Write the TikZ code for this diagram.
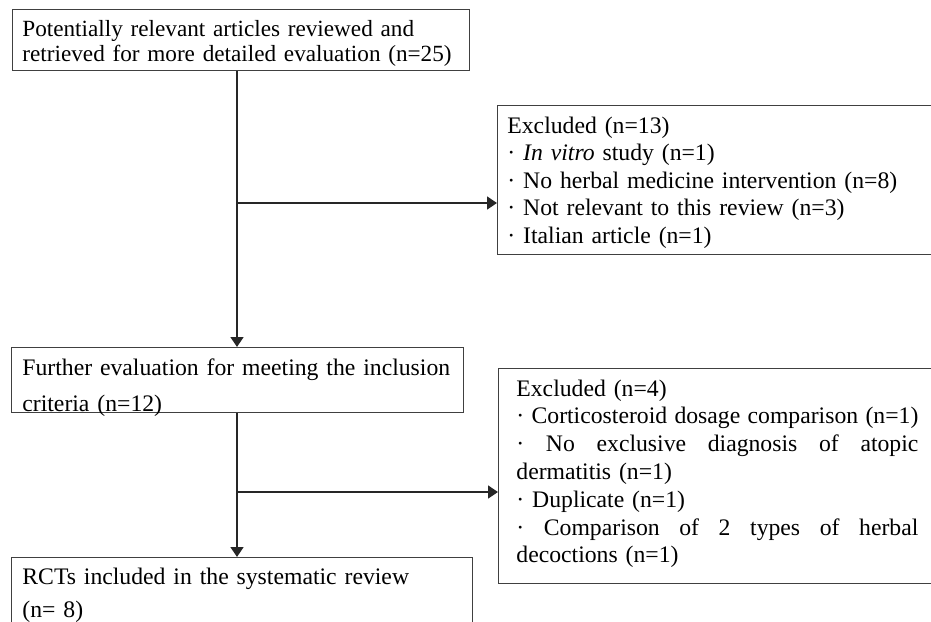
\documentclass[tikz,border=0pt]{standalone}
\usepackage{fontspec}
\setmainfont{Liberation Serif}
\usetikzlibrary{arrows.meta}
\usetikzlibrary{positioning}
\usetikzlibrary{calc}
\tikzset{flow box/.style={draw=black!75,
                          line width=0.7pt,
                          anchor=north west,
                          inner sep=0pt}}
\tikzset{flow text/.style={anchor=base west,
                           inner sep=0pt,
                           text width=240pt,
                           align=left}}
\tikzset{flow arrow/.style={draw=black!85,
                            line width=0.7pt,
                            -{Triangle[length=5pt,width=6.5pt]}}}
\newcommand{\BUL}{\textperiodcentered\ }
\newcommand{\FS}[1]{\fontsize{11.85}{#1}\selectfont}
\newcommand{\JLINE}[1]{\makebox[\hsize][s]{\spaceskip=.25em plus 3em minus .05em\relax #1}}

\begin{document}
\begin{tikzpicture}
      [
      x=0.5pt,y=-0.5pt,
      ]

      \path [use as bounding box,clip] (0,0) rectangle (931,621);

      % boxes
      \node [flow box,minimum width=228.5pt,minimum height=30.5pt] (B1) at (12,9) {};
      \node [flow box,minimum width=217.5pt,minimum height=74.5pt] (X1) at (497,105) {};
      \node [flow box,minimum width=226pt,minimum height=32.5pt] (B2) at (11,347) {};
      \node [flow box,minimum width=217.5pt,minimum height=107.5pt] (X2) at (498,368) {};
      \node [flow box,minimum width=230.5pt,minimum height=40pt] (B3) at (11,557) {};

      % texts
      \node [flow text,font=\fontsize{11.6}{13pt}\selectfont] (T1) at (22,36)
      {Potentially relevant articles reviewed and\\
       retrieved for more detailed evaluation (n=25)};

      \node [flow text,font=\FS{13.75pt}] (TX1) at (507,133)
      {Excluded (n=13)\\
       \BUL\textit{In vitro} study (n=1)\\
       \BUL No herbal medicine intervention (n=8)\\
       \BUL Not relevant to this review (n=3)\\
       \BUL Italian article (n=1)};

      \node [flow text,font=\FS{18pt}] (T2) at (22,375)
      {Further evaluation for meeting the inclusion\\
       criteria (n=12)};

      \node [flow text,font=\FS{13.9pt},text width=201pt] (TX2) at (516,396)
      {Excluded (n=4)\\
       \JLINE{\BUL Corticosteroid dosage comparison (n=1)}\\
       \JLINE{\BUL No exclusive diagnosis of atopic}\\
       dermatitis (n=1)\\
       \BUL Duplicate (n=1)\\
       \JLINE{\BUL Comparison of 2 types of herbal}\\
       decoctions (n=1)};

      \node [flow text,font=\FS{16.5pt}] (T3) at (22,584)
      {RCTs included in the systematic review\\
       (n= 8)};

      % connectors
      \coordinate (J1) at (237,203);
      \coordinate (J2) at (237,492);

      \draw [flow arrow] (B1.south -| J1) -- (B2.north -| J1);
      \draw [flow arrow] (J1) -- (J1 -| X1.west);

      \draw [flow arrow] (B2.south -| J2) -- (B3.north -| J2);
      \draw [flow arrow] (J2) -- (J2 -| X2.west);

    \end{tikzpicture}
\end{document}
